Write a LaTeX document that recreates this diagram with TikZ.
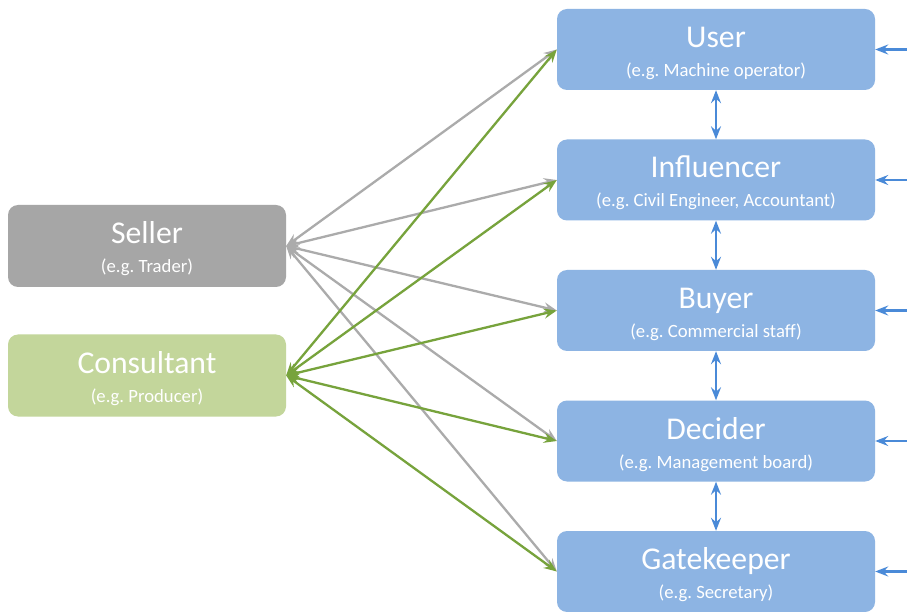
\documentclass[tikz,border=0pt]{standalone}
\usepackage{fontspec}
\setmainfont{Carlito}
\usetikzlibrary{arrows.meta}
\frenchspacing
\definecolor{boxblue}{HTML}{8DB4E3}
\definecolor{boxgray}{HTML}{A6A6A6}
\definecolor{boxgreen}{HTML}{C3D69B}
\definecolor{linegray}{HTML}{ABABAB}
\definecolor{linegreen}{HTML}{77A33C}
\definecolor{lineblue}{HTML}{4A8AD8}
\newcommand{\ttl}[1]{{\fontsize{31.7}{29}\selectfont #1}}
\tikzset{
  rolebox/.style={rounded corners=10pt, inner sep=0pt, text=white, align=center,
    font=\fontsize{18.7}{29}\selectfont\frenchspacing, text height=59pt, text depth=5pt},
  leftbox/.style={rolebox, minimum width=278pt, minimum height=82pt},
  rightbox/.style={rolebox, fill=boxblue, minimum width=318pt, minimum height=81pt},
  grayline/.style={draw=linegray, line width=2.3pt, {Stealth[length=13pt,width=10pt,inset=4.5pt]}-{Stealth[length=13pt,width=10pt,inset=4.5pt]}},
  greenline/.style={draw=linegreen, line width=2.3pt, {Stealth[length=13pt,width=10pt,inset=4.5pt]}-{Stealth[length=13pt,width=10pt,inset=4.5pt]}},
  blueboth/.style={draw=lineblue, line width=2.3pt, {Stealth[length=13pt,width=10pt,inset=4.5pt]}-{Stealth[length=13pt,width=10pt,inset=4.5pt]}},
  bluein/.style={draw=lineblue, line width=2.3pt, -{Stealth[length=13pt,width=10pt,inset=4.5pt]}}
}
\begin{document}
\begin{tikzpicture}[x=1pt,y=1pt]
\useasboundingbox (0,0) rectangle (907,611);
\fill[white] (0,0) rectangle (907,611);

\node[leftbox, fill=boxgray] (seller) at (147,365) {\ttl{Seller}\\(e.g. Trader)};
\node[leftbox, fill=boxgreen] (consult) at (147,235.5) {\ttl{Consultant}\\(e.g. Producer)};

\node[rightbox] (user) at (716,561.5) {\ttl{User}\\(e.g. Machine operator)};
\node[rightbox] (infl) at (716,431) {\ttl{Influencer}\\(e.g. Civil Engineer, Accountant)};
\node[rightbox] (buyer) at (716,300.5) {\ttl{Buyer}\\(e.g. Commercial staff)};
\node[rightbox] (decider) at (716,170) {\ttl{Decider}\\(e.g. Management board)};
\node[rightbox] (gate) at (716,39.5) {\ttl{Gatekeeper}\\(e.g. Secretary)};

\foreach \t in {user,infl,buyer,decider,gate}
  \draw[grayline] (seller.east) -- (\t.west);
\foreach \t in {user,infl,buyer,decider,gate}
  \draw[greenline] (consult.east) -- (\t.west);

\draw[blueboth] (user.south) -- (infl.north);
\draw[blueboth] (infl.south) -- (buyer.north);
\draw[blueboth] (buyer.south) -- (decider.north);
\draw[blueboth] (decider.south) -- (gate.north);

\coordinate (eUser) at (907,561.5);
\coordinate (eInfl) at (907,431);
\coordinate (eBuyer) at (907,300.5);
\coordinate (eDecider) at (907,170);
\coordinate (eGate) at (907,39.5);
\draw[bluein] (eUser) -- (user.east);
\draw[bluein] (eInfl) -- (infl.east);
\draw[bluein] (eBuyer) -- (buyer.east);
\draw[bluein] (eDecider) -- (decider.east);
\draw[bluein] (eGate) -- (gate.east);
\end{tikzpicture}
\end{document}
